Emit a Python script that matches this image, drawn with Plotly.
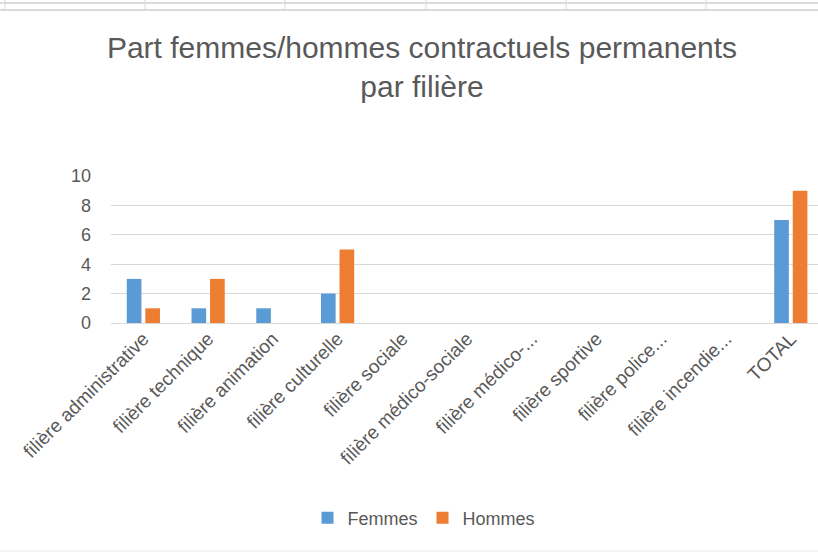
import plotly.graph_objects as go

categories = ["filière administrative", "filière technique", "filière animation",
              "filière culturelle", "filière sociale", "filière médico-sociale",
              "filière médico-...", "filière sportive", "filière police...",
              "filière incendie...", "TOTAL"]
femmes = [3, 1, 1, 2, 0, 0, 0, 0, 0, 0, 7]
hommes = [1, 3, 0, 5, 0, 0, 0, 0, 0, 0, 9]
y_ticks = [0, 2, 4, 6, 8, 10]

FONT = "Liberation Sans, Arial, sans-serif"
GREY = "#595959"

fig = go.Figure()
fig.add_trace(go.Bar(name="Femmes", x=categories, y=femmes,
                     marker=dict(color="#5b9bd5", line=dict(width=0))))
fig.add_trace(go.Bar(name="Hommes", x=categories, y=hommes,
                     marker=dict(color="#ed7d31", line=dict(width=0))))

PL, PW, PB, PH = 111, 707, 230, 147
def px_x(x):
    return (x - PL) / PW
def px_y(y):
    return (553 - y - PB) / PH

shapes = []
# spreadsheet cell grid visible at top of the screenshot
for yy in (3, 10):
    shapes.append(dict(type="line", xref="paper", yref="paper",
                       x0=px_x(0), x1=px_x(818), y0=px_y(yy), y1=px_y(yy),
                       line=dict(color="#dadada", width=2)))
for xx in (5, 145, 285, 426, 566, 706):
    shapes.append(dict(type="line", xref="paper", yref="paper",
                       x0=px_x(xx), x1=px_x(xx), y0=px_y(0), y1=px_y(10),
                       line=dict(color="#dadada", width=1)))
shapes.append(dict(type="line", xref="paper", yref="paper",
                   x0=px_x(0), x1=px_x(818), y0=px_y(551), y1=px_y(551),
                   line=dict(color="#ececec", width=1)))

fig.update_layout(
    width=818, height=553,
    margin=dict(l=PL, r=0, t=176, b=PB, autoexpand=False),
    paper_bgcolor="white", plot_bgcolor="white",
    barmode="group", bargap=0.427, bargroupgap=0.21,
    title=dict(text="Part femmes/hommes contractuels permanents<br>par filière",
               x=422/818, xref="container", xanchor="center",
               y=1 - 58/553, yref="container", yanchor="top",
               font=dict(family=FONT, size=30, color=GREY)),
    font=dict(family=FONT, color=GREY),
    xaxis=dict(range=[-0.5, 10.42], tickangle=-45, automargin=False,
               tickfont=dict(family=FONT, size=19, color=GREY),
               showgrid=False, showline=False, ticks=""),
    yaxis=dict(range=[0, 10], tickvals=y_ticks, automargin=False,
               tickfont=dict(family=FONT, size=18, color=GREY),
               gridcolor="#d9d9d9", gridwidth=1,
               zeroline=True, zerolinecolor="#d9d9d9", zerolinewidth=1,
               showline=False, ticks="", ticklabelstandoff=19),
    legend=dict(orientation="h", x=424/818, xanchor="center", xref="container",
                y=1 - 518/553, yref="container", yanchor="middle",
                font=dict(family=FONT, size=18, color=GREY),
                itemwidth=30, traceorder="normal"),
    shapes=shapes,
)

fig.write_html("out.html", config={"displayModeBar": False},
               post_script="document.body.style.margin='0px';")
